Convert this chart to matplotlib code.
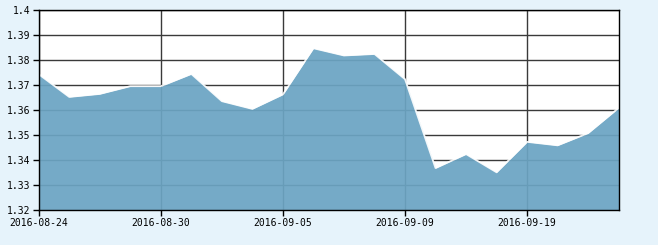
import matplotlib
matplotlib.use("Agg")
import matplotlib.pyplot as plt
import numpy as np

dates = ["2016-08-24", "2016-08-25", "2016-08-26", "2016-08-29", "2016-08-30",
         "2016-08-31", "2016-09-01", "2016-09-02", "2016-09-05", "2016-09-06",
         "2016-09-07", "2016-09-08", "2016-09-09", "2016-09-12", "2016-09-13",
         "2016-09-14", "2016-09-19", "2016-09-20", "2016-09-21", "2016-09-22"]
values = [1.3744, 1.3653, 1.3665, 1.3696, 1.3696,
          1.3745, 1.3636, 1.3605, 1.3663, 1.3848,
          1.3819, 1.3825, 1.3724, 1.3368, 1.3424,
          1.3351, 1.3473, 1.3459, 1.3508, 1.3609]
y_ticks = [1.32, 1.33, 1.34, 1.35, 1.36, 1.37, 1.38, 1.39, 1.40]
y_labels = ["1.32", "1.33", "1.34", "1.35", "1.36", "1.37", "1.38", "1.39", "1.4"]
x_tick_idx = [0, 4, 8, 12, 16]

bg = "#e6f3fb"
fig = plt.figure(figsize=(6.58, 2.45), dpi=100, facecolor=bg)
ax = fig.add_axes([38.7 / 658, 35 / 245, 580 / 658, 199.7 / 245])
ax.set_facecolor("white")

x = np.arange(len(dates))
ax.set_xlim(0, len(dates) - 1)
ax.set_ylim(1.32, 1.40)

ax.set_yticks(y_ticks)
ax.set_yticklabels(y_labels)
ax.set_xticks(x_tick_idx)
ax.set_xticklabels([dates[i] for i in x_tick_idx])

ax.grid(True, color="#3a3a3a", linewidth=1.0, zorder=1)
ax.set_axisbelow(True)

ax.fill_between(x, 1.32, values, color="#6ba4c3", alpha=0.93, linewidth=0, zorder=2)
ax.plot(x, values, color="white", linewidth=1.3, alpha=0.9, zorder=3)

for s in ax.spines.values():
    s.set_color("black")
    s.set_linewidth(1.0)
    s.set_zorder(5)

ax.tick_params(axis="both", direction="out", length=4, width=1, color="black",
               labelsize=7, labelcolor="black", pad=2)
for lab in ax.get_xticklabels() + ax.get_yticklabels():
    lab.set_family("DejaVu Sans Mono")

fig.savefig("out.png", dpi=100, facecolor=bg)
